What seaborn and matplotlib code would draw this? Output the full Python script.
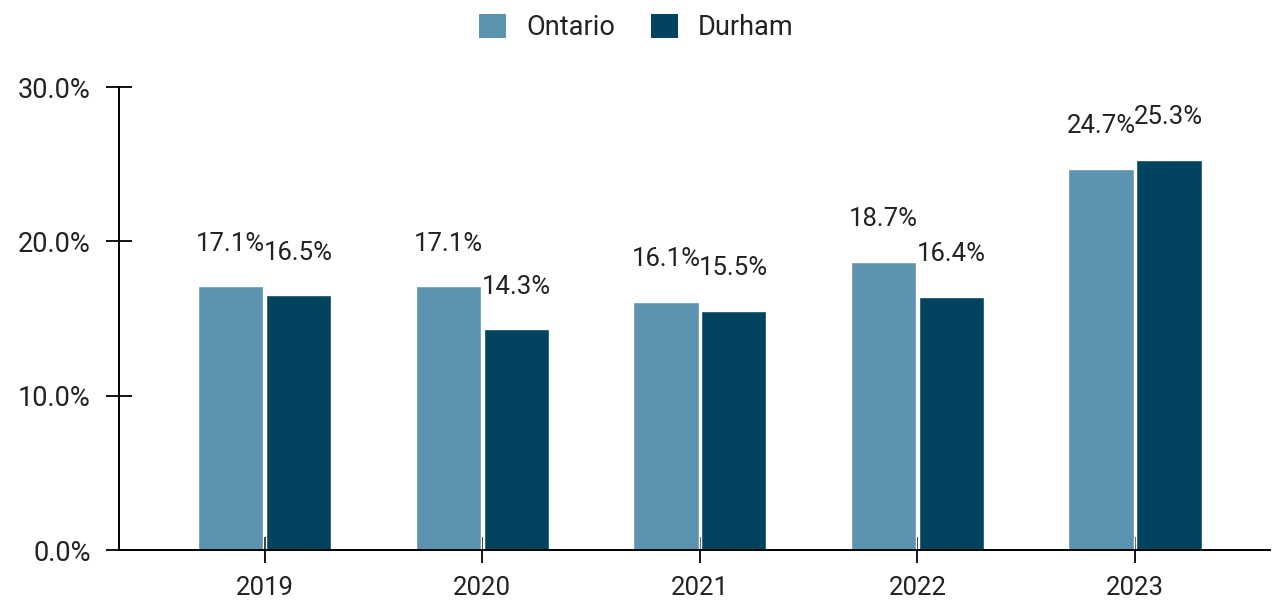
import pandas as pd
import matplotlib.pyplot as plt
import seaborn as sns
from matplotlib.patches import Patch

sns.set_theme(style="white")
plt.rcParams['font.family'] = ['Roboto', 'DejaVu Sans']

years = ['2019', '2020', '2021', '2022', '2023']
ontario = [17.1, 17.1, 16.1, 18.7, 24.7]
durham = [16.5, 14.3, 15.5, 16.4, 25.3]
series = ['Ontario', 'Durham']
colors = ['#5b93b0', '#02445f']

df = pd.DataFrame({
    'Year': years * 2,
    'Value': ontario + durham,
    'Region': ['Ontario'] * len(years) + ['Durham'] * len(years),
})

fig = plt.figure(figsize=(12.73, 6.05), dpi=100)
ax = fig.add_axes([0.0935, 0.0909, 0.904, 0.765])

sns.barplot(data=df, x='Year', y='Value', hue='Region', hue_order=series,
            palette=colors, width=0.625, gap=0.04, saturation=1,
            legend=False, ax=ax)

for cont in ax.containers:
    ax.bar_label(cont, labels=[f"{v:.1f}%" for v in cont.datavalues],
                 padding=22, fontsize=18.5, color='#222222')

ax.set_ylim(0, 30)
ax.set_xlim(-0.67, 4.62)
ax.set_yticks([0, 10, 20, 30])
ax.set_yticklabels(['0.0%', '10.0%', '20.0%', '30.0%'])
ax.set_xlabel('')
ax.set_ylabel('')

for s in ['top', 'right']:
    ax.spines[s].set_visible(False)
for s in ['left', 'bottom']:
    ax.spines[s].set_color('black')
    ax.spines[s].set_linewidth(1.4)

ax.tick_params(axis='y', direction='inout', length=19, width=1.3, pad=11,
               labelsize=19.5, colors='black', labelcolor='#222222')
ax.tick_params(axis='x', direction='inout', length=19, width=1.3, pad=9,
               labelsize=18.5, colors='black', labelcolor='#222222')
ax.tick_params(left=True, bottom=True)

handles = [Patch(facecolor=c, edgecolor='none', label=l) for c, l in zip(colors, series)]
fig.legend(handles=handles, loc='center', bbox_to_anchor=(0.5, 0.955), ncol=2,
           frameon=False, fontsize=19.5, handlelength=1.0, handleheight=1.0,
           handletextpad=0.75, columnspacing=1.3, labelcolor='#222222')

plt.savefig('out.png', dpi=100)
